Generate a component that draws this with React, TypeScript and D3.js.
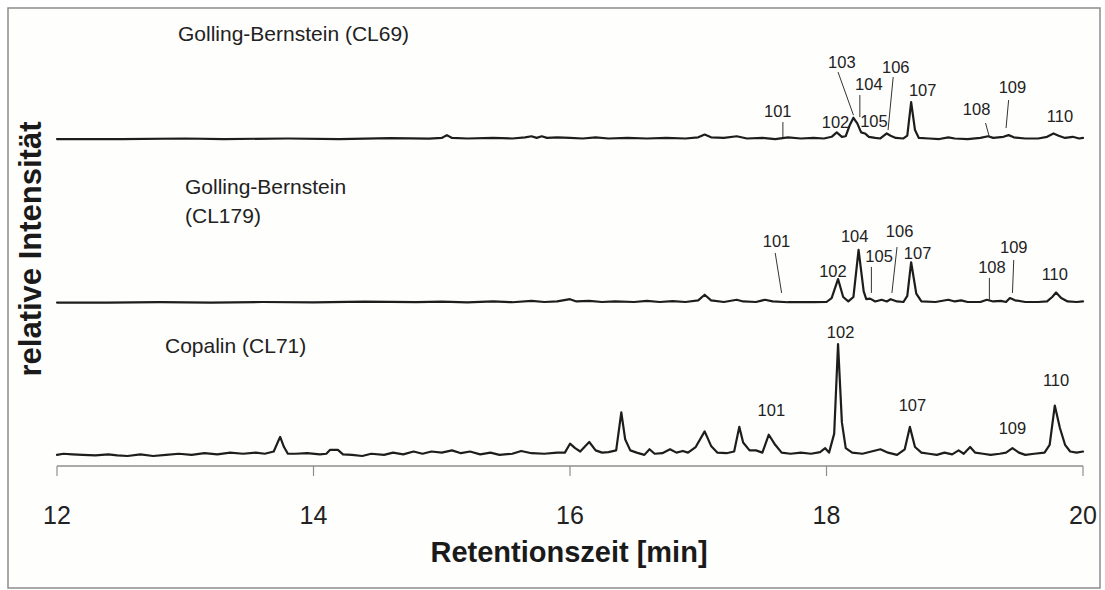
import React from "react";
import * as d3 from "d3";

// Retention-time axis ticks (minutes)
const timeTicks = [12, 14, 16, 18, 20];

// Sample names, one per trace, top to bottom
const sampleNames = [["Golling-Bernstein (CL69)"], ["Golling-Bernstein", "(CL179)"], ["Copalin (CL71)"]];

// Vertical offset of each trace baseline, in intensity units
const traceOffsets = [283, 137, 0];

// Chromatogram traces: [retention time (min), relative intensity]
const cl69: [number, number][] = [
  [12.0, 0], [12.5, 0], [13.0, 0.5], [13.3, 0], [13.8, 0.5], [14.2, 0], [14.6, 0.8], [14.9, 0.3],
  [15.0, 1], [15.04, 3.5], [15.08, 1], [15.2, 0.5], [15.4, 1], [15.55, 0.5], [15.65, 1.5], [15.7, 2.5],
  [15.74, 1], [15.78, 2.5], [15.82, 1], [15.9, 1.5], [16.0, 1], [16.1, 0.5], [16.2, 1.5], [16.3, 0.5],
  [16.45, 1], [16.6, 0.5], [16.75, 1], [16.9, 0.5], [17.0, 1.5], [17.05, 4], [17.1, 1.5], [17.2, 1],
  [17.3, 2.5], [17.38, 0.5], [17.5, 1], [17.6, 0], [17.7, 1.5], [17.8, 0.5], [17.9, 1], [17.98, 0.5],
  [18.04, 2], [18.08, 6], [18.12, 2], [18.15, 2.5], [18.18, 12], [18.21, 19], [18.24, 14], [18.27, 6],
  [18.3, 5], [18.33, 2], [18.38, 1], [18.42, 0.5], [18.47, 5], [18.5, 3], [18.54, 1], [18.6, 0.5],
  [18.63, 3], [18.66, 33], [18.69, 8], [18.72, 1], [18.8, 0.5], [18.88, 0], [18.95, 1.5], [19.0, 0.5],
  [19.1, 0], [19.2, 1], [19.26, 2.5], [19.3, 1], [19.38, 2], [19.42, 3.5], [19.46, 1.5], [19.55, 0.5],
  [19.65, 0.5], [19.72, 2], [19.77, 5], [19.81, 3], [19.86, 1], [19.92, 2], [19.97, 0.5], [20.0, 1],
];

const cl179: [number, number][] = [
  [12.0, 0], [12.4, 0], [12.8, 0.3], [13.2, 0], [13.6, 0.5], [14.0, 0.2], [14.4, 0.8], [14.8, 0.3],
  [15.0, 0.8], [15.2, 0.2], [15.4, 1], [15.55, 0.3], [15.7, 1.5], [15.8, 0.5], [15.9, 1], [16.0, 3],
  [16.05, 1], [16.15, 1.5], [16.25, 0.5], [16.35, 1], [16.5, 0.5], [16.6, 1.5], [16.7, 0.5], [16.8, 1.2],
  [16.9, 0.5], [17.0, 2], [17.05, 7], [17.1, 2], [17.2, 0.5], [17.3, 2.5], [17.35, 1], [17.45, 0.5],
  [17.52, 2.5], [17.58, 1], [17.7, 0.3], [17.8, 0.5], [17.9, 0.3], [18.0, 0.5], [18.04, 4], [18.09, 21],
  [18.13, 5], [18.17, 1], [18.21, 5], [18.25, 47], [18.29, 10], [18.31, 3], [18.34, 3.5], [18.38, 1],
  [18.43, 2.5], [18.47, 1], [18.5, 3], [18.55, 1], [18.6, 0.5], [18.63, 6], [18.66, 36], [18.7, 8],
  [18.74, 1], [18.85, 0.5], [18.95, 2.5], [19.0, 1], [19.05, 2], [19.1, 0.5], [19.2, 0.5], [19.25, 2.5],
  [19.3, 1], [19.36, 1.5], [19.4, 0.5], [19.43, 4], [19.47, 2], [19.55, 0.5], [19.65, 0.5], [19.72, 1],
  [19.76, 5], [19.79, 9], [19.83, 4], [19.88, 1], [19.95, 0.5], [20.0, 1],
];

const cl71: [number, number][] = [
  [12.0, 1], [12.05, 2], [12.12, 1.5], [12.2, 1], [12.3, 0.5], [12.4, 1.5], [12.47, 0.5], [12.55, 0],
  [12.65, 1.5], [12.75, 0], [12.85, 1], [12.95, 2], [13.05, 1], [13.15, 2.5], [13.25, 1.5], [13.35, 3],
  [13.45, 2], [13.55, 3], [13.62, 2], [13.69, 4], [13.72, 12], [13.74, 17], [13.77, 8], [13.8, 2],
  [13.86, 2], [13.95, 2.5], [14.05, 1.5], [14.1, 2], [14.13, 5.5], [14.19, 5.5], [14.23, 1.5], [14.3, 1],
  [14.38, 0], [14.45, 2], [14.55, 1], [14.62, 3], [14.7, 1.5], [14.78, 4], [14.85, 2], [14.92, 4],
  [15.0, 3], [15.08, 5], [15.15, 2.5], [15.22, 4], [15.3, 1.5], [15.38, 3], [15.45, 1], [15.55, 2],
  [15.62, 4.5], [15.7, 2.5], [15.8, 2], [15.9, 3], [15.96, 3], [16.0, 11], [16.04, 7], [16.08, 4],
  [16.12, 9], [16.15, 12.5], [16.2, 5], [16.25, 3], [16.3, 3.5], [16.36, 5], [16.4, 39], [16.43, 15],
  [16.47, 5], [16.52, 3], [16.58, 1], [16.62, 6], [16.66, 2], [16.72, 2.5], [16.78, 6], [16.83, 3],
  [16.88, 4.5], [16.92, 3], [16.98, 8], [17.05, 22], [17.1, 9], [17.15, 3], [17.22, 2.5], [17.28, 4],
  [17.32, 26], [17.35, 12], [17.4, 5], [17.45, 5], [17.5, 3], [17.55, 19], [17.6, 10], [17.65, 3],
  [17.72, 2], [17.8, 3], [17.88, 2], [17.95, 3.5], [17.99, 7], [18.02, 3], [18.06, 20], [18.09, 100],
  [18.12, 30], [18.15, 7], [18.2, 3], [18.28, 2], [18.35, 4], [18.42, 6], [18.48, 3], [18.55, 1],
  [18.61, 6], [18.65, 26], [18.69, 8], [18.74, 3], [18.8, 2], [18.86, 1], [18.92, 3], [18.98, 1.5],
  [19.03, 5], [19.07, 2], [19.12, 8], [19.16, 3], [19.22, 2], [19.28, 1], [19.35, 2], [19.4, 3],
  [19.45, 7], [19.5, 3], [19.55, 1], [19.62, 2], [19.7, 3], [19.74, 10], [19.78, 45], [19.82, 25],
  [19.86, 10], [19.9, 4], [19.95, 3], [20.0, 4],
];

const traces = [cl69, cl179, cl71];

// Peak annotations: [compound no., label time, label level, optional leader [t1, v1, t2, v2]]
type Note = [string, number, number, [number, number, number, number]?];

const notesCl69: Note[] = [
  ["101", 17.62, 19.6, [17.66, 15.2, 17.66, 1.8]],
  ["102", 18.07, 9.8],
  ["103", 18.12, 63.4, [18.09, 59.8, 18.21, 21.4]],
  ["104", 18.33, 43.8, [18.26, 39.3, 18.26, 19.6]],
  ["105", 18.37, 10.7],
  ["106", 18.54, 58.9, [18.52, 55.4, 18.48, 8.0]],
  ["107", 18.75, 38.4],
  ["108", 19.17, 21.4, [19.24, 14.3, 19.27, 1.8]],
  ["109", 19.45, 41.1, [19.42, 34.8, 19.4, 9.8]],
  ["110", 19.82, 15.2],
];

const notesCl179: Note[] = [
  ["101", 17.61, 49.6, [17.6, 44.3, 17.65, 8.6]],
  ["102", 18.05, 22.9],
  ["104", 18.22, 54.1],
  ["105", 18.41, 36.3, [18.35, 31.8, 18.35, 8.6]],
  ["106", 18.57, 58.6, [18.55, 49.6, 18.51, 8.6]],
  ["107", 18.71, 38.9],
  ["108", 19.29, 26.4, [19.27, 22.0, 19.27, 2.3]],
  ["109", 19.46, 44.3, [19.46, 38.0, 19.45, 8.6]],
  ["110", 19.78, 20.2],
];

const notesCl71: Note[] = [
  ["101", 17.57, 35.7],
  ["102", 18.11, 105.4],
  ["107", 18.67, 40.2],
  ["109", 19.45, 19.6],
  ["110", 19.79, 62.5],
];

const notes = [notesCl69, notesCl179, notesCl71];

const W = 1105;
const H = 590;
const FONT = "'Liberation Sans', Arial, Helvetica, sans-serif";
const INK = "#1d1d1d";

// Placement of the sample names (left x, first baseline)
const namePlacement = [
  { x: 178, y: 41 },
  { x: 185, y: 194 },
  { x: 165, y: 353 },
];

export default function App() {
  const x = d3.scaleLinear().domain([12, 20]).range([57, 1083]);
  const y = d3.scaleLinear().domain([0, 400]).range([456, 8]);
  const axisY = 466;

  const lineFor = (offset: number) =>
    d3
      .line<[number, number]>()
      .x((d) => x(d[0]))
      .y((d) => y(d[1] + offset))
      .curve(d3.curveLinear);

  return (
    <svg
      width={W}
      height={H}
      viewBox={`0 0 ${W} ${H}`}
      style={{ position: "absolute", left: 0, top: 0, display: "block", background: "#fff" }}
    >
      <rect x={8} y={8} width={1092} height={580} fill="#fefefd" stroke="#8c8c8c" strokeWidth={1.5} />

      {/* traces */}
      {traces.map((tr, i) => (
        <path
          key={`tr${i}`}
          d={lineFor(traceOffsets[i])(tr) || ""}
          fill="none"
          stroke={INK}
          strokeWidth={2.2}
          strokeLinejoin="round"
          strokeLinecap="round"
        />
      ))}

      {/* peak annotations */}
      {notes.map((list, i) =>
        list.map(([id, t, v, lead]) => (
          <g key={`n${i}-${id}`}>
            {lead && (
              <line
                x1={x(lead[0])}
                y1={y(lead[1] + traceOffsets[i])}
                x2={x(lead[2])}
                y2={y(lead[3] + traceOffsets[i])}
                stroke="#333"
                strokeWidth={1}
              />
            )}
            <text
              x={x(t)}
              y={y(v + traceOffsets[i])}
              textAnchor="middle"
              fontFamily={FONT}
              fontSize={16.5}
              fill="#222"
            >
              {id}
            </text>
          </g>
        ))
      )}

      {/* sample names */}
      {sampleNames.map((lines, i) => (
        <text key={`s${i}`} fontFamily={FONT} fontSize={21} fill="#222">
          {lines.map((ln, j) => (
            <tspan key={j} x={namePlacement[i].x} y={namePlacement[i].y + j * 29}>
              {ln}
            </tspan>
          ))}
        </text>
      ))}

      {/* x axis */}
      <line x1={x(12)} x2={x(20)} y1={axisY} y2={axisY} stroke="#8e8e8e" strokeWidth={1.5} />
      {timeTicks.map((t) => (
        <g key={`t${t}`}>
          <line x1={x(t)} x2={x(t)} y1={axisY} y2={axisY + 10} stroke="#8e8e8e" strokeWidth={1.2} />
          <text x={x(t)} y={524} textAnchor="middle" fontFamily={FONT} fontSize={25} fill="#222">
            {t}
          </text>
        </g>
      ))}

      <text
        x={569}
        y={562}
        textAnchor="middle"
        fontFamily={FONT}
        fontSize={29}
        fontWeight="bold"
        fill="#1a1a1a"
      >
        Retentionszeit [min]
      </text>

      <text
        transform="translate(41,249) rotate(-90)"
        textAnchor="middle"
        fontFamily={FONT}
        fontSize={31}
        fontWeight="bold"
        fill="#1a1a1a"
      >
        relative Intensität
      </text>
    </svg>
  );
}
